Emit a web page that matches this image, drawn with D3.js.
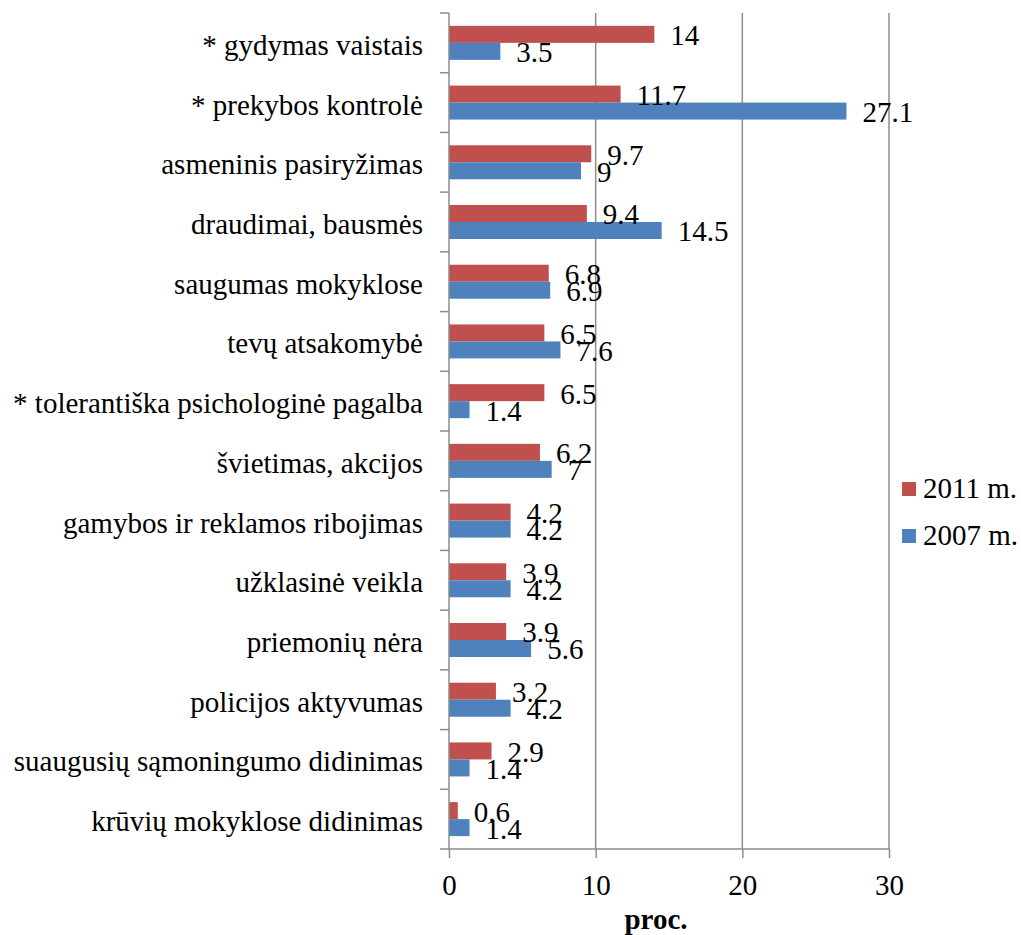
<!DOCTYPE html>
<html>
<head>
<meta charset="utf-8">
<script src="https://cdn.jsdelivr.net/npm/d3@7"></script>
<style>
    body { margin: 0; background: #fff; }
    text { font-family: "Liberation Serif", "Times New Roman", serif; fill: #000; }
</style>
</head>
<body>
<script>
// Categories (top to bottom)
var categories = [
    "* gydymas vaistais",
    "* prekybos kontrolė",
    "asmeninis pasiryžimas",
    "draudimai, bausmės",
    "saugumas mokyklose",
    "tevų atsakomybė",
    "* tolerantiška psichologinė pagalba",
    "švietimas, akcijos",
    "gamybos ir reklamos ribojimas",
    "užklasinė veikla",
    "priemonių nėra",
    "policijos aktyvumas",
    "suaugusių sąmoningumo didinimas",
    "krūvių mokyklose didinimas"
];

// Series values
var values2011 = [14, 11.7, 9.7, 9.4, 6.8, 6.5, 6.5, 6.2, 4.2, 3.9, 3.9, 3.2, 2.9, 0.6];
var values2007 = [3.5, 27.1, 9, 14.5, 6.9, 7.6, 1.4, 7, 4.2, 4.2, 5.6, 4.2, 1.4, 1.4];

var seriesNames = ["2011 m.", "2007 m."];
var seriesColors = ["#C0504D", "#4F81BD"];
var xTicks = [0, 10, 20, 30];

window.onload = function(){
    var w = 1021, h = 935;
    var left = 449, right = 889, top = 13, bottom = 849;
    var fs = "29px";

    var svg = d3.select("body")
        .append("svg")
        .attr("width", w)
        .attr("height", h);

    var x = d3.scaleLinear().domain([0, 30]).range([left, right]);
    var y = d3.scaleBand().domain(categories).range([top, bottom]).padding(0);
    var barH = 17;
    var y1 = d3.scaleBand().domain(seriesNames)
        .range([y.bandwidth() / 2 - barH, y.bandwidth() / 2 + barH]);

    var rows = categories.map(function(c, i){
        return { cat: c, vals: [
            { s: seriesNames[0], v: values2011[i] },
            { s: seriesNames[1], v: values2007[i] }
        ] };
    });

    // Gridlines
    svg.append("g")
        .selectAll("line")
        .data(xTicks.slice(1))
        .enter()
        .append("line")
        .attr("x1", function(d){ return x(d); })
        .attr("x2", function(d){ return x(d); })
        .attr("y1", top)
        .attr("y2", bottom)
        .style("stroke", "#8c8c8c")
        .style("stroke-width", 1.5);

    // Bars
    var groups = svg.selectAll(".grp")
        .data(rows)
        .enter()
        .append("g")
        .attr("class", "grp")
        .attr("transform", function(d){ return "translate(0," + y(d.cat) + ")"; });

    groups.selectAll("rect")
        .data(function(d){ return d.vals; })
        .enter()
        .append("rect")
        .attr("x", x(0))
        .attr("y", function(d){ return y1(d.s); })
        .attr("width", function(d){ return x(d.v) - x(0); })
        .attr("height", y1.bandwidth())
        .style("fill", function(d, i){ return seriesColors[i]; });

    // Value labels
    groups.selectAll(".val")
        .data(function(d){ return d.vals; })
        .enter()
        .append("text")
        .attr("class", "val")
        .attr("x", function(d){ return x(d.v) + 16; })
        .attr("y", function(d){ return y1(d.s) + y1.bandwidth() / 2 + 11; })
        .style("font-size", fs)
        .text(function(d){ return d.v; });

    // Y axis
    var yAxis = svg.append("g")
        .attr("transform", "translate(" + left + ",0)");
    yAxis.append("line")
        .attr("x1", 0).attr("x2", 0)
        .attr("y1", top).attr("y2", bottom)
        .style("stroke", "#8c8c8c").style("stroke-width", 1.5);
    yAxis.selectAll(".ytick")
        .data(d3.range(categories.length + 1))
        .enter()
        .append("line")
        .attr("x1", -9).attr("x2", 0)
        .attr("y1", function(i){ return top + i * y.step(); })
        .attr("y2", function(i){ return top + i * y.step(); })
        .style("stroke", "#8c8c8c").style("stroke-width", 1.5);
    yAxis.selectAll(".ylab")
        .data(categories)
        .enter()
        .append("text")
        .attr("x", -26)
        .attr("y", function(d){ return y(d) + y.bandwidth() / 2 + 12; })
        .attr("text-anchor", "end")
        .style("font-size", fs)
        .text(function(d){ return d; });

    // X axis
    var xAxis = d3.axisBottom(x).tickValues(xTicks).tickSize(9).tickPadding(16);
    var xg = svg.append("g")
        .attr("transform", "translate(0," + bottom + ")")
        .call(xAxis);
    xg.selectAll("path, line").style("stroke", "#8c8c8c").style("stroke-width", 1.5);
    xg.select(".domain").attr("d", "M" + left + ",0H" + right);
    xg.selectAll("text")
        .style("font-family", "'Liberation Serif', 'Times New Roman', serif")
        .style("font-size", fs)
        .style("fill", "#000");

    svg.append("text")
        .attr("x", 656)
        .attr("y", 929)
        .attr("text-anchor", "middle")
        .style("font-size", fs)
        .style("font-weight", "bold")
        .text("proc.");

    // Legend
    var legend = svg.selectAll(".legend")
        .data(seriesNames)
        .enter()
        .append("g")
        .attr("class", "legend")
        .attr("transform", function(d, i){ return "translate(902," + (482 + i * 47) + ")"; });
    legend.append("rect")
        .attr("width", 14).attr("height", 14)
        .style("fill", function(d, i){ return seriesColors[i]; });
    legend.append("text")
        .attr("x", 21)
        .attr("y", 16)
        .style("font-size", fs)
        .text(function(d){ return d; });
};
</script>
</body>
</html>
